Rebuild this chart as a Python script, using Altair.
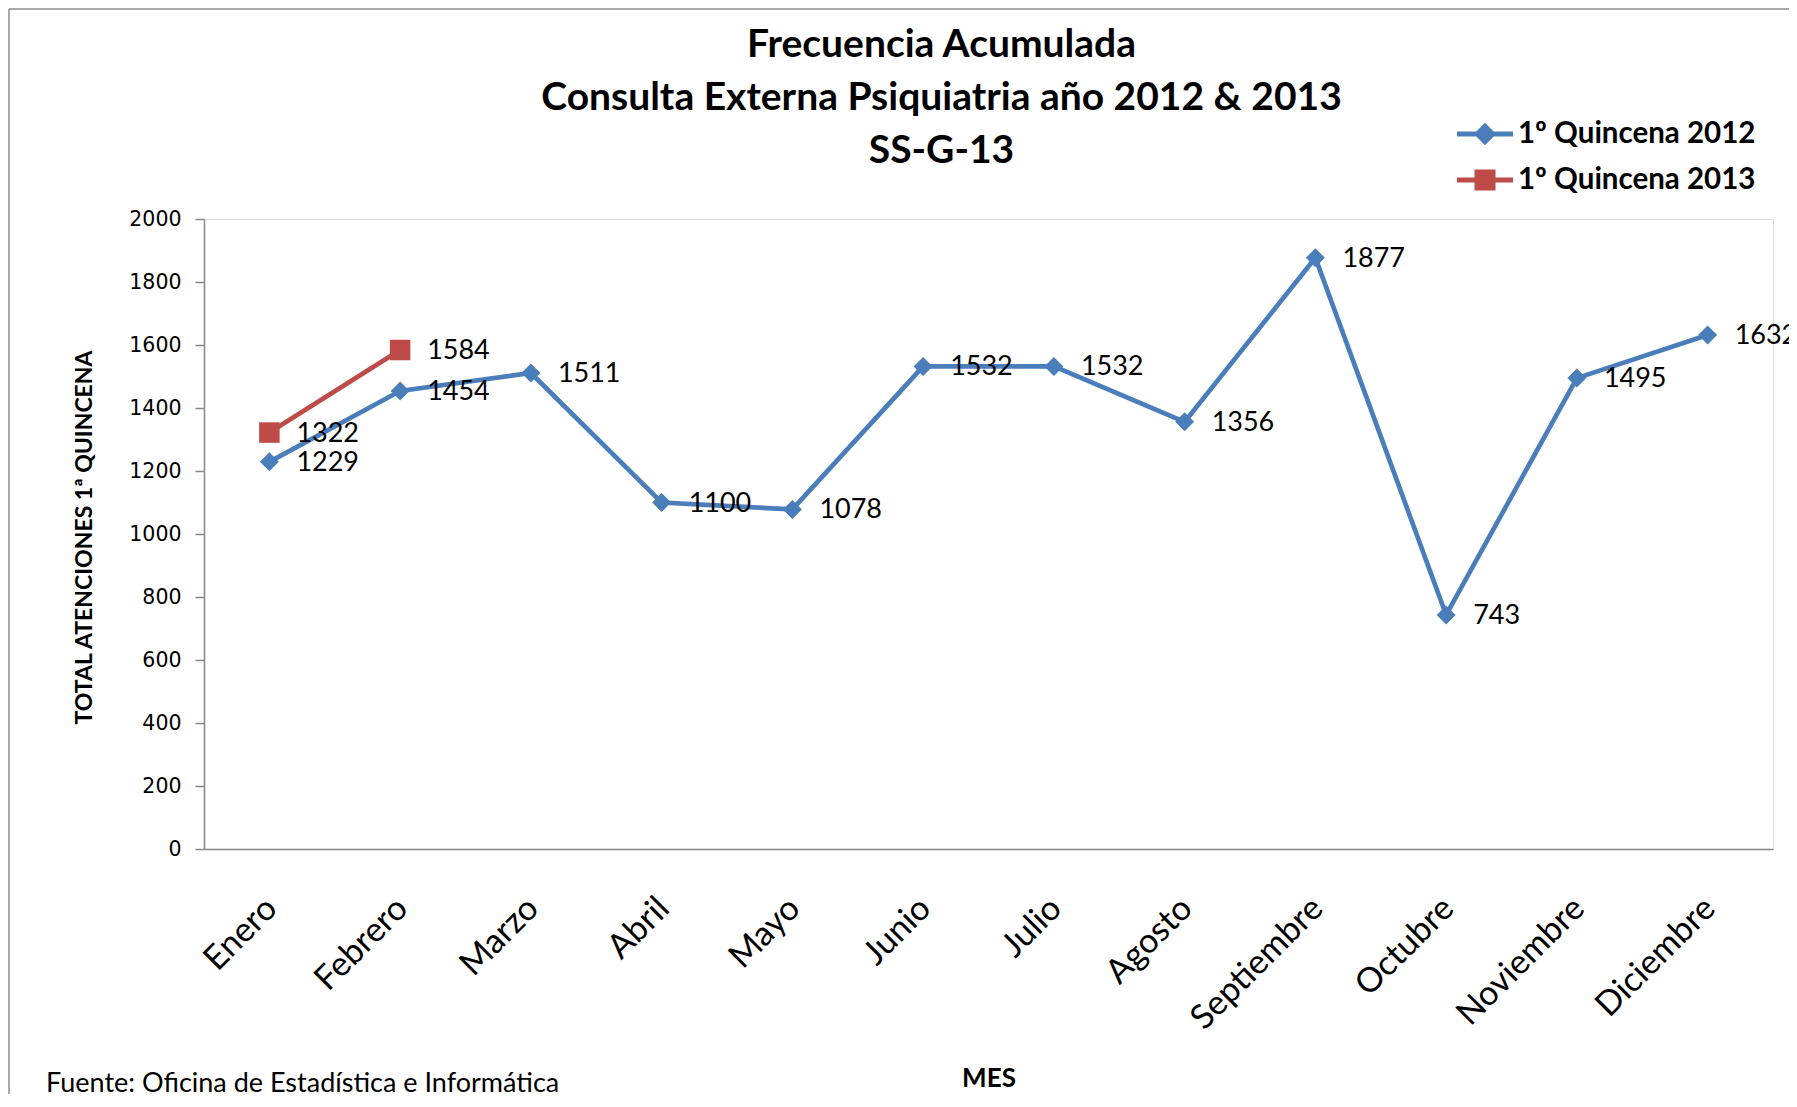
import altair as alt
import pandas as pd

meses = ["Enero", "Febrero", "Marzo", "Abril", "Mayo", "Junio", "Julio",
         "Agosto", "Septiembre", "Octubre", "Noviembre", "Diciembre"]
serie_2012 = "1º Quincena 2012"
serie_2013 = "1º Quincena 2013"
valores_2012 = [1229, 1454, 1511, 1100, 1078, 1532, 1532, 1356, 1877, 743, 1495, 1632]
valores_2013 = [1322, 1584]
y_ticks = [0, 200, 400, 600, 800, 1000, 1200, 1400, 1600, 1800, 2000]
titulo = ["Frecuencia Acumulada", "Consulta Externa Psiquiatria año 2012 & 2013", "SS-G-13"]
titulo_y = "TOTAL ATENCIONES 1ª QUINCENA"
titulo_x = "MES"
fuente = "Fuente: Oficina de Estadística e Informática"

series = [serie_2012, serie_2013]
colores = ["#4A7EBB", "#BE4B48"]

rows = [{"mes": m, "serie": serie_2012, "valor": v} for m, v in zip(meses, valores_2012)]
rows += [{"mes": m, "serie": serie_2013, "valor": v} for m, v in zip(meses, valores_2013)]
df = pd.DataFrame(rows)

W, H = 1569, 630
AXIS_GREY = "#868686"

x_enc = alt.X(
    "mes:N", sort=meses,
    scale=alt.Scale(type="point", domain=meses, padding=0.5),
    axis=alt.Axis(
        title=titulo_x, titleFont="Lato", titleFontSize=26, titleFontWeight="bold",
        titleColor="black", titleY=229, titleBaseline="middle",
        labelAngle=-45, labelAlign="right", labelBaseline="top", labelPadding=42,
        labelOffset=-10, labelFont="Lato", labelFontSize=34, labelColor="black",
        ticks=False, domainColor=AXIS_GREY, domainWidth=1.5, grid=False,
    ),
)
y_enc = alt.Y(
    "valor:Q",
    scale=alt.Scale(domain=[0, 2000], nice=False, zero=True),
    axis=alt.Axis(
        values=y_ticks, format="d", title=titulo_y, titleFont="Lato", titleFontSize=23,
        titleFontWeight="bold", titleColor="black", titleX=-120, titleY=318,
        titleAngle=-90, titleAlign="center", titleBaseline="middle",
        labelFont="DejaVu Sans", labelFontSize=20.5, labelColor="black",
        labelPadding=14, tickSize=9, tickColor=AXIS_GREY, tickWidth=1.5,
        domainColor=AXIS_GREY, domainWidth=1.5, grid=False,
    ),
)
color_scale = alt.Scale(domain=series, range=colores)
color_noleg = alt.Color("serie:N", scale=color_scale, legend=None)

base = alt.Chart(df)

path_2012 = "M-1.87,-0.17L1.87,-0.17L1.87,0.17L-1.87,0.17Z M0,-0.75L0.75,0L0,0.75L-0.75,0Z"
path_2013 = "M-1.87,-0.17L1.87,-0.17L1.87,0.17L-1.87,0.17Z M-0.7,-0.7L0.7,-0.7L0.7,0.7L-0.7,0.7Z"

leg = alt.Legend(
    title=None, orient="none", legendX=1266, legendY=-100, padding=0,
    symbolSize=900, symbolStrokeWidth=0, symbolOpacity=1,
    labelFont="Lato", labelFontSize=29.5, labelFontWeight="bold", labelColor="black",
    labelOffset=18, labelLimit=400, rowPadding=16,
)
# layer without marks that only feeds the legend (placed first so its legend wins the merge)
legend_layer = base.transform_filter("false").mark_point(filled=True, opacity=1).encode(
    x=x_enc, y=y_enc,
    color=alt.Color("serie:N", scale=color_scale, legend=leg),
    shape=alt.Shape("serie:N", scale=alt.Scale(domain=series, range=[path_2012, path_2013]), legend=leg),
)

lines = base.mark_line(strokeWidth=4.7).encode(x=x_enc, y=y_enc, color=color_noleg, detail="serie:N")

pts_2012 = base.transform_filter(alt.datum.serie == serie_2012).mark_point(
    filled=True, shape="diamond", size=361, opacity=1, strokeWidth=0
).encode(x=x_enc, y=y_enc, color=color_noleg)

pts_2013 = base.transform_filter(alt.datum.serie == serie_2013).mark_point(
    filled=True, shape="square", size=420, opacity=1, strokeWidth=0
).encode(x=x_enc, y=y_enc, color=color_noleg)

labels = base.mark_text(
    align="left", baseline="middle", dx=27, dy=1, font="Lato", fontSize=27, color="black"
).encode(x=x_enc, y=y_enc, text="valor:Q")

footer = alt.Chart(pd.DataFrame({"t": [fuente]})).mark_text(
    align="left", baseline="middle", font="Lato", fontSize=27, color="black"
).encode(x=alt.value(46 - 204), y=alt.value(1084 - 219), text="t:N")

border_v = alt.Chart(pd.DataFrame({"k": [0]})).mark_rule(color="#8C8C8C", strokeWidth=1.5).encode(
    x=alt.value(-195), y=alt.value(-210), y2=alt.value(900))
border_h = alt.Chart(pd.DataFrame({"k": [0]})).mark_rule(color="#8C8C8C", strokeWidth=1.5).encode(
    y=alt.value(-210), x=alt.value(-195), x2=alt.value(1600))

chart = alt.layer(
    legend_layer, border_v, border_h, lines, pts_2012, pts_2013, labels, footer
).properties(
    width=W, height=H,
    title=alt.TitleParams(
        text=titulo, font="Lato", fontSize=39, fontWeight="bold", color="black",
        lineHeight=53, anchor="middle", frame="group", dx=-47, offset=0, dy=163,
    ),
    autosize=alt.AutoSizeParams(type="none"),
    padding={"left": 196, "top": 211, "right": 16, "bottom": 245},
).configure_view(strokeWidth=0).configure(background="white")

chart.save("out.html", embed_options={"renderer": "svg", "actions": False})
